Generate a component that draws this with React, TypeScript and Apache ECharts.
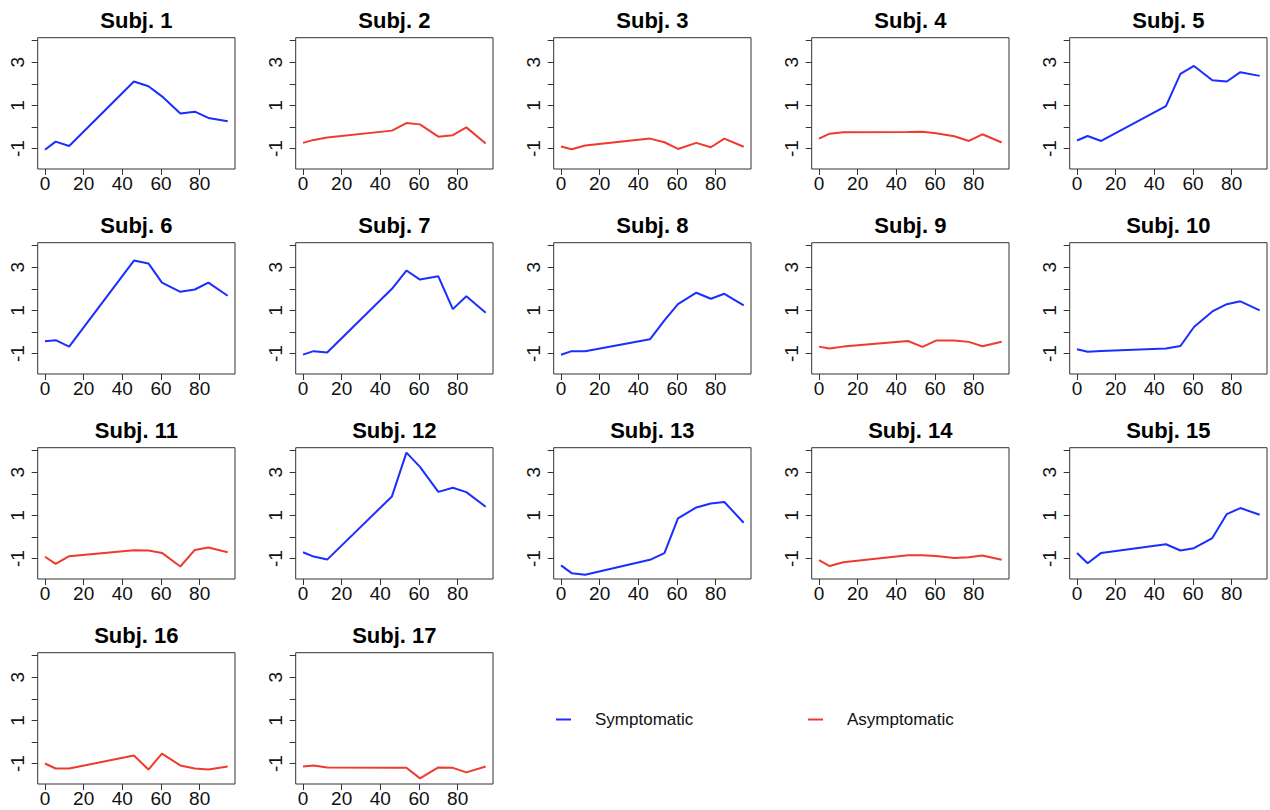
import React, { useEffect, useRef } from "react";
import * as echarts from "echarts";

const TIMES = [0, 5.5, 12.5, 46, 53.5, 60.5, 70, 77.5, 84.5, 94.5];
const SUBJECTS = [
  "Subj. 1", "Subj. 2", "Subj. 3", "Subj. 4", "Subj. 5", "Subj. 6", "Subj. 7", "Subj. 8", "Subj. 9",
  "Subj. 10", "Subj. 11", "Subj. 12", "Subj. 13", "Subj. 14", "Subj. 15", "Subj. 16", "Subj. 17",
];
const STATUS = ["S", "A", "A", "A", "S", "S", "S", "S", "A", "S", "A", "S", "S", "A", "S", "A", "A"];

const S1 = [-1.06, -0.68, -0.88, 2.11, 1.89, 1.42, 0.62, 0.71, 0.42, 0.26];
const S2 = [-0.74, -0.6, -0.49, -0.17, 0.18, 0.12, -0.45, -0.38, -0.02, -0.77];
const S3 = [-0.91, -1.03, -0.86, -0.54, -0.71, -1.02, -0.74, -0.94, -0.54, -0.92];
const S4 = [-0.54, -0.31, -0.25, -0.23, -0.22, -0.29, -0.43, -0.65, -0.34, -0.72];
const S5 = [-0.63, -0.42, -0.65, 0.97, 2.46, 2.83, 2.17, 2.11, 2.54, 2.37];
const S6 = [-0.43, -0.38, -0.68, 3.31, 3.18, 2.29, 1.86, 1.97, 2.29, 1.68];
const S7 = [-1.05, -0.89, -0.95, 2.0, 2.85, 2.43, 2.58, 1.06, 1.66, 0.89];
const S8 = [-1.06, -0.89, -0.89, -0.34, 0.54, 1.29, 1.82, 1.54, 1.77, 1.23];
const S9 = [-0.68, -0.77, -0.68, -0.42, -0.69, -0.4, -0.4, -0.46, -0.66, -0.45];
const S10 = [-0.8, -0.92, -0.88, -0.77, -0.65, 0.23, 0.95, 1.29, 1.42, 1.0];
const S11 = [-0.92, -1.25, -0.89, -0.62, -0.63, -0.74, -1.37, -0.6, -0.49, -0.71];
const S12 = [-0.71, -0.91, -1.05, 1.88, 3.91, 3.25, 2.09, 2.28, 2.08, 1.4];
const S13 = [-1.32, -1.68, -1.75, -1.06, -0.75, 0.86, 1.37, 1.55, 1.62, 0.66];
const S14 = [-1.08, -1.35, -1.17, -0.85, -0.85, -0.88, -0.98, -0.94, -0.86, -1.06];
const S15 = [-0.74, -1.22, -0.74, -0.34, -0.63, -0.52, -0.05, 1.06, 1.34, 1.03];
const S16 = [-1.0, -1.23, -1.23, -0.63, -1.28, -0.54, -1.09, -1.23, -1.28, -1.14];
const S17 = [-1.14, -1.09, -1.18, -1.2, -1.2, -1.69, -1.18, -1.2, -1.41, -1.14];
const VALUES = [S1, S2, S3, S4, S5, S6, S7, S8, S9, S10, S11, S12, S13, S14, S15, S16, S17];

const X_TICKS = [0, 20, 40, 60, 80];
const Y_TICKS = [-1, 0, 1, 2, 3, 4];
const Y_LABELS = [-1, 1, 3];
const LEGEND_NAMES = ["Symptomatic", "Asymptomatic"];

const BLUE = "#1a2eff";
const RED = "#ef3a2e";
const FONT = "Liberation Sans, Arial, Helvetica, sans-serif";

export default function App() {
  const ref = useRef<HTMLDivElement>(null);
  useEffect(() => {
    if (!ref.current) return;
    const chart = echarts.init(ref.current, null, { renderer: "svg" });
    const BOX_L = 37.7, BOX_T = 37.7, BOX_W = 197.3, BOX_H = 131.3, PITCH_X = 258, PITCH_Y = 205;
    const grids: any[] = [];
    const xAxes: any[] = [];
    const yAxes: any[] = [];
    const series: any[] = [];
    const graphics: any[] = [];
    SUBJECTS.forEach((name, i) => {
      const r = Math.floor(i / 5);
      const c = i % 5;
      const left = BOX_L + PITCH_X * c;
      const top = BOX_T + PITCH_Y * r;
      grids.push({
        left, top, width: BOX_W, height: BOX_H,
        show: true, borderColor: "#333", borderWidth: 1, backgroundColor: "transparent",
      });
      xAxes.push({
        type: "value", gridIndex: i, min: -3.78, max: 98.28, position: "bottom",
        axisLine: { show: false, onZero: false },
        splitLine: { show: false },
        axisTick: { show: true, customValues: X_TICKS, length: 6, lineStyle: { color: "#333" } },
        axisLabel: { customValues: X_TICKS, margin: 5, fontSize: 19, color: "#111", fontFamily: FONT },
      });
      yAxes.push({
        type: "value", gridIndex: i, min: -1.95, max: 4.14, position: "left",
        axisLine: { show: false, onZero: false },
        splitLine: { show: false },
        axisTick: { show: true, customValues: Y_TICKS, length: 6, lineStyle: { color: "#333" } },
        axisLabel: { customValues: Y_LABELS, rotate: 90, margin: 11, fontSize: 19, color: "#111", fontFamily: FONT },
      });
      const sym = STATUS[i] === "S";
      series.push({
        type: "line",
        name: sym ? LEGEND_NAMES[0] : LEGEND_NAMES[1],
        xAxisIndex: i, yAxisIndex: i,
        symbol: "none", showSymbol: false,
        lineStyle: { color: sym ? BLUE : RED, width: 2 },
        itemStyle: { color: sym ? BLUE : RED },
        data: TIMES.map((t, k) => [t, VALUES[i][k]]),
      });
      graphics.push({
        type: "text",
        x: left + BOX_W / 2,
        y: 20 + PITCH_Y * r,
        style: {
          text: name,
          font: `bold 22px ${FONT}`,
          fill: "#000",
          align: "center",
          verticalAlign: "middle",
          textAlign: "center",
          textVerticalAlign: "middle",
        },
      });
    });
    chart.setOption({
      animation: false,
      backgroundColor: "#fff",
      grid: grids,
      xAxis: xAxes,
      yAxis: yAxes,
      series,
      graphic: graphics,
      legend: [
        {
          data: [LEGEND_NAMES[0]], left: 556, top: 711, padding: 0,
          icon: "rect", itemWidth: 15, itemHeight: 2,
          textStyle: { fontSize: 17, color: "#111", fontFamily: FONT, padding: [0, 0, 0, 19] },
          selectedMode: false,
        },
        {
          data: [LEGEND_NAMES[1]], left: 808, top: 711, padding: 0,
          icon: "rect", itemWidth: 15, itemHeight: 2,
          textStyle: { fontSize: 17, color: "#111", fontFamily: FONT, padding: [0, 0, 0, 19] },
          selectedMode: false,
        },
      ],
    });
    return () => chart.dispose();
  }, []);
  return (
    <div
      ref={ref}
      style={{ position: "fixed", left: 0, top: 0, width: 1270, height: 810, background: "#fff" }}
    />
  );
}
